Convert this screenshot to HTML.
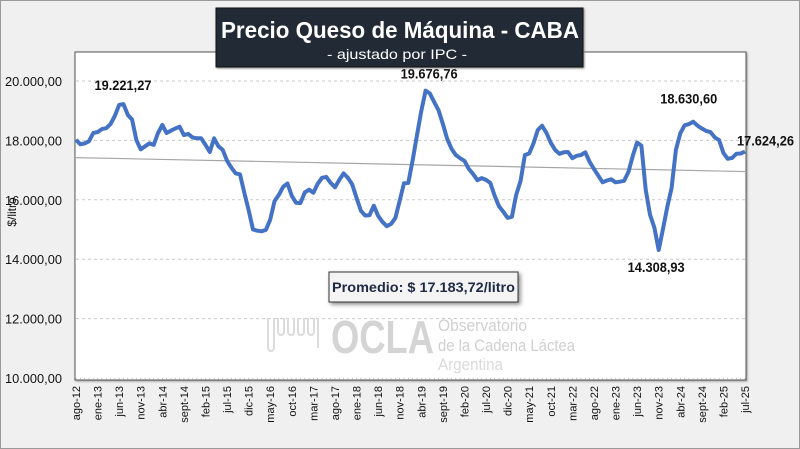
<!DOCTYPE html>
<html><head><meta charset="utf-8">
<style>
html,body{margin:0;padding:0;width:800px;height:449px;overflow:hidden;background:#f0f0f0;}
svg{display:block;font-family:"Liberation Sans",sans-serif;}
</style></head>
<body>
<svg id="chart" width="800" height="449" viewBox="0 0 800 449" xmlns="http://www.w3.org/2000/svg">
  <rect x="0.5" y="0.5" width="799" height="448" fill="#f0f0f0" stroke="#9a9a9a"/>
  <rect x="75" y="52" width="671" height="328" fill="#fff" stroke="#555" stroke-width="1" style="filter:drop-shadow(1px 1px 1px #999)"/>
  <g id="grid"></g>
  <g id="logo">
    <path d="M268 318 v30 a3 3 0 0 0 6 0 v-30 M278 318 v14 a3 3 0 0 0 6 0 v-14 M288 318 v14 a3 3 0 0 0 6 0 v-14 M298 318 v14 a3 3 0 0 0 6 0 v-14 M308 318 v14 a3 3 0 0 0 6 0 v-14 M318 318 v30" fill="none" stroke="#dcdcdc" stroke-width="2"/>
    <text x="331" y="353" font-size="46" font-weight="bold" fill="#d4d4d4" textLength="103" lengthAdjust="spacingAndGlyphs">OCLA</text>
    <text x="438" y="331" font-size="17" fill="#d0d0d0" textLength="89" lengthAdjust="spacingAndGlyphs">Observatorio</text>
    <text x="438" y="351" font-size="17" fill="#d0d0d0" textLength="137" lengthAdjust="spacingAndGlyphs">de la Cadena Láctea</text>
    <text x="438" y="370" font-size="17" fill="#dadada" textLength="65" lengthAdjust="spacingAndGlyphs">Argentina</text>
  </g>
  <g id="yticks"></g>
  <g id="xticks"></g>
  <text transform="translate(16,212) rotate(-90)" text-anchor="middle" font-size="12" fill="#111">$/litro</text>
  <line id="trend" stroke="#a6a6a6" stroke-width="1.2"/>
  <polyline id="series" fill="none" stroke="#4472c4" stroke-width="4" stroke-linejoin="round"/>
  <g id="labels"></g>
  <g>
    <rect x="216" y="8" width="367" height="59" fill="#222a35" stroke="#111" style="filter:drop-shadow(1px 1px 1px #888)"/>
    <text x="221" y="38" font-size="23" font-weight="bold" fill="#fff" textLength="358" lengthAdjust="spacingAndGlyphs">Precio Queso de Máquina - CABA</text>
    <text x="327" y="59" font-size="14" fill="#fff" textLength="140" lengthAdjust="spacingAndGlyphs">- ajustado por IPC -</text>
  </g>
  <g>
    <rect x="329" y="272" width="189" height="30" fill="#f4f4f4" stroke="#333" style="filter:drop-shadow(2px 2px 2px #888)"/>
    <text x="332" y="292" font-size="14" font-weight="bold" fill="#1f2a44" textLength="183" lengthAdjust="spacingAndGlyphs">Promedio: $ 17.183,72/litro</text>
  </g>
</svg>
<script>
const months = ["ene","feb","mar","abr","may","jun","jul","ago","sept","oct","nov","dic"];
const startMonth = 7; // ago
const startYear = 12;
const prices = [
18020,17870,17900,17970,18250,18280,18380,18410,18550,18820,19200,19221,
18860,18700,18010,17700,17800,17900,17850,18250,18520,18250,18330,18400,
18460,18180,18220,18100,18070,18070,17850,17610,18070,17800,17680,17310,
17080,16890,16860,16240,15660,15000,14960,14940,14990,15330,15950,16170,
16440,16550,16130,15900,15890,16250,16340,16240,16540,16740,16770,16570,
16420,16670,16890,16740,16520,16070,15630,15470,15480,15800,15460,15260,
15110,15190,15390,15970,16560,16570,17340,18180,18990,19677,19580,19290,
19010,18550,18050,17720,17510,17400,17310,17040,16870,16660,16730,16670,
16570,16130,15780,15600,15390,15430,16170,16640,17510,17560,17900,18350,
18490,18250,17920,17680,17550,17600,17610,17400,17480,17510,17600,17280,
17040,16810,16590,16650,16690,16590,16610,16640,16940,17480,17930,17820,
16340,15500,15060,14309,15020,15760,16400,17680,18240,18510,18550,18631,
18500,18400,18320,18280,18100,18010,17580,17380,17410,17550,17560,17624];
const yTicks = [10000,12000,14000,16000,18000,20000];
const yTickLabels = ["10.000,00","12.000,00","14.000,00","16.000,00","18.000,00","20.000,00"];
const labelIdx = [11,81,135,143,155];
const labelText = ["19.221,27","19.676,76","14.308,93","18.630,60","17.624,26"];
const labelDx = [0,4,-2,-4,21];
const labelDy = [-14,-12,22,-18,-6];

const NS="http://www.w3.org/2000/svg";
const X0=76, X1=745, Y0=378, Y1=81, VMIN=10000, VMAX=20000;
function xs(i){return X0+(X1-X0)*i/(prices.length-1);}
function ys(v){return Y0-(v-VMIN)/(VMAX-VMIN)*(Y0-Y1);}
function mk(tag,attrs,parent){const e=document.createElementNS(NS,tag);for(const k in attrs)e.setAttribute(k,attrs[k]);parent.appendChild(e);return e;}

const grid=document.getElementById('grid'), yt=document.getElementById('yticks'), xt=document.getElementById('xticks');
yTicks.forEach((v,k)=>{
  if(v>VMIN){const g=mk('line',{x1:76,x2:745,y1:ys(v),y2:ys(v),stroke:'#c8c8c8','stroke-dasharray':'3,3'},grid);
  
  }
  const t=mk('text',{x:5,y:ys(v)+5,'font-size':13,fill:'#111',textLength:57,lengthAdjust:'spacingAndGlyphs'},yt);
  t.textContent=yTickLabels[k];
  
  
});
for(let i=0;i<prices.length;i++){
  const m=mk('line',{x1:xs(i),x2:xs(i),y1:378,y2:380,stroke:'#999','stroke-width':0.6},xt);
  
  
}
for(let i=0;i<prices.length;i+=5){
  const mi=(startMonth+i)%12, yr=startYear+Math.floor((startMonth+i)/12);
  const t=mk('text',{transform:`translate(${xs(i)+4},386) rotate(-90)`,'text-anchor':'end','font-size':11,fill:'#111'},xt);
  t.textContent=months[mi]+'-'+yr;
  
  
}
document.getElementById('series').setAttribute('points',prices.map((v,i)=>xs(i).toFixed(1)+','+ys(v).toFixed(1)).join(' '));
const n=prices.length;let sx=0,sy=0,sxy=0,sxx=0;
prices.forEach((v,i)=>{sx+=i;sy+=v;sxy+=i*v;sxx+=i*i;});
const b=(n*sxy-sx*sy)/(n*sxx-sx*sx), a=(sy-b*sx)/n;
const tr=document.getElementById('trend');
tr.setAttribute('x1',75);tr.setAttribute('y1',ys(a));tr.setAttribute('x2',745);tr.setAttribute('y2',ys(a+b*(n-1)));
const lg=document.getElementById('labels');
labelIdx.forEach((idx,k)=>{
  const cx=xs(idx)+labelDx[k];
  const t=mk('text',{x:cx-29,y:ys(prices[idx])+labelDy[k],'font-size':14,'font-weight':'bold',fill:'#111',textLength:57,lengthAdjust:'spacingAndGlyphs'},lg);
  t.textContent=labelText[k];
  
  
});
</script>
</body></html>
